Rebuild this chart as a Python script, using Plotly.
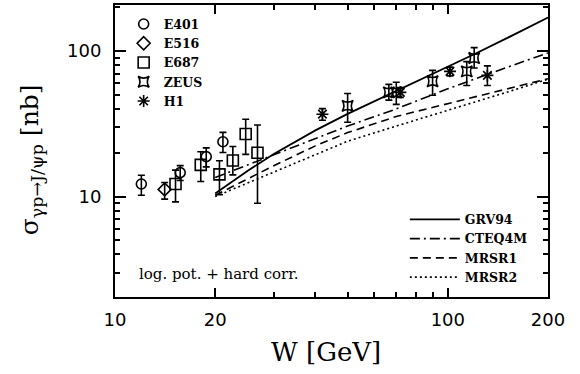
import plotly.graph_objects as go

# ---------------- data ----------------
e401_w = [12.0, 15.7, 18.8, 21.1]
e401_s = [12.2, 14.6, 18.8, 23.8]
e401_up = [1.8, 1.7, 2.8, 3.8]
e401_dn = [2.0, 1.7, 2.8, 3.7]

e516_w = [14.1]
e516_s = [11.2]
e516_up = [1.3]
e516_dn = [1.6]

e687_w = [15.2, 18.1, 20.6, 22.6, 24.7, 26.8]
e687_s = [12.2, 16.5, 14.2, 17.7, 26.9, 20.0]
e687_up = [3.0, 3.8, 3.4, 4.4, 7.1, 11.0]
e687_dn = [3.0, 3.8, 3.9, 3.6, 7.4, 11.0]

zeus_w = [50.0, 66.5, 70.0, 90.0, 114.0, 120.0]
zeus_s = [42.0, 52.0, 52.0, 62.0, 72.5, 89.5]
zeus_up = [9.0, 7.0, 9.0, 11.6, 12.0, 16.0]
zeus_dn = [9.6, 6.0, 9.0, 12.3, 14.5, 13.0]

h1_w = [42.0, 72.0, 101.5, 131.5]
h1_s = [36.8, 52.0, 72.5, 68.0]
h1_up = [3.4, 4.0, 5.0, 11.0]
h1_dn = [3.4, 4.0, 5.0, 10.0]

grv_w = [20, 22, 25, 30, 35, 40, 50, 60, 70, 80, 100, 120, 150, 200]
grv_s = [10.5, 12.3, 15.0, 19.6, 24.0, 28.5, 37.0, 45.0, 53.5, 61.5, 78.5, 95.0, 122.0, 170.0]

cteq_w = [20, 25, 30, 40, 50, 70, 100, 150, 200]
cteq_s = [13.5, 16.5, 19.5, 25.0, 30.5, 40.0, 55.0, 77.0, 97.0]

mrsr1_w = [20, 25, 30, 40, 50, 70, 100, 150, 200]
mrsr1_s = [10.2, 13.2, 16.3, 22.3, 27.5, 35.5, 43.5, 54.5, 64.5]

mrsr2_w = [20, 25, 30, 40, 50, 70, 100, 150, 200]
mrsr2_s = [10.0, 12.4, 14.8, 19.5, 24.0, 30.5, 39.0, 52.0, 64.0]

x_tickvals = [10, 20, 100, 200]
x_ticktext = ["10", "20", "100", "200"]
x_minor = [30, 40, 50, 60, 70, 80, 90]
y_tickvals = [10, 100]
y_ticktext = ["10", "100"]
y_minor = [2, 3, 4, 5, 6, 7, 8, 9, 20, 30, 40, 50, 60, 70, 80, 90, 200]

# ---------------- figure ----------------
fig = go.Figure()

def data_trace(name, w, s, up, dn, symbol, size):
    return go.Scatter(
        x=w, y=s, mode="markers", name=name,
        marker=dict(symbol=symbol, size=size, color="black",
                    line=dict(color="black", width=1.6)),
        error_y=dict(type="data", symmetric=False, array=up, arrayminus=dn,
                     color="black", thickness=1.6, width=3.5),
        legend="legend",
    )

fig.add_trace(data_trace("E401", e401_w, e401_s, e401_up, e401_dn, "circle-open", 10))
fig.add_trace(data_trace("E516", e516_w, e516_s, e516_up, e516_dn, "diamond-open", 10))
fig.add_trace(data_trace("E687", e687_w, e687_s, e687_up, e687_dn, "square-open", 11))
fig.add_trace(data_trace("ZEUS", zeus_w, zeus_s, zeus_up, zeus_dn, "star-square-open", 10))
fig.add_trace(data_trace("H1", h1_w, h1_s, h1_up, h1_dn, "asterisk-open", 10))

def curve(name, w, s, dash, width):
    return go.Scatter(x=w, y=s, mode="lines", name=name,
                      line=dict(color="black", width=width, dash=dash),
                      legend="legend2")

fig.add_trace(curve("GRV94", grv_w, grv_s, "solid", 1.8))
fig.add_trace(curve("CTEQ4M", cteq_w, cteq_s, "10px,4px,2px,4px", 1.6))
fig.add_trace(curve("MRSR1", mrsr1_w, mrsr1_s, "8px,5px", 1.6))
fig.add_trace(curve("MRSR2", mrsr2_w, mrsr2_s, "2px,3px", 1.6))

axis_common = dict(
    type="log", showgrid=False, zeroline=False,
    showline=True, linecolor="black", linewidth=2, mirror="allticks",
    ticks="inside", tickcolor="black", tickwidth=1.5,
    tickfont=dict(family="DejaVu Sans", size=18, color="black"),
)

fig.update_xaxes(
    **axis_common, range=[1, 2.30103], tickmode="array",
    tickvals=x_tickvals, ticktext=x_ticktext, ticklen=9,
    minor=dict(tickmode="array", tickvals=x_minor, ticks="inside", ticklen=5,
               tickcolor="black", tickwidth=1.5),
    ticklabelstandoff=5,
)
fig.update_yaxes(
    **axis_common, range=[0.31, 2.316], tickmode="array",
    tickvals=y_tickvals, ticktext=y_ticktext, ticklen=11,
    minor=dict(tickmode="array", tickvals=y_minor, ticks="inside", ticklen=5,
               tickcolor="black", tickwidth=1.5),
    ticklabelstandoff=8,
)

legend_font = dict(family="DejaVu Serif", size=12.5, color="black", weight="bold")

fig.update_layout(
    width=580, height=374,
    margin=dict(l=115, r=32, t=3, b=77),
    paper_bgcolor="white", plot_bgcolor="white",
    showlegend=True,
    legend=dict(x=0.02, y=0.985, xanchor="left", yanchor="top",
                bgcolor="rgba(0,0,0,0)", itemwidth=30, tracegroupgap=0,
                font=legend_font),
    legend2=dict(x=0.965, y=0.316, xanchor="right", yanchor="top",
                 bgcolor="rgba(0,0,0,0)", itemwidth=50, tracegroupgap=0,
                 font=legend_font),
    annotations=[
        dict(text="W [GeV]", xref="paper", yref="paper", x=0.487, y=-0.19,
             xanchor="center", yanchor="middle", showarrow=False,
             font=dict(family="DejaVu Serif", size=26, color="black")),
        dict(text="σ<sub>γp→J/ψp</sub> [nb]", xref="paper", yref="paper",
             x=-0.195, y=0.47, xanchor="center", yanchor="middle",
             textangle=-90, showarrow=False,
             font=dict(family="DejaVu Serif", size=25, color="black")),
        dict(text="log. pot. + hard corr.", xref="paper", yref="paper",
             x=0.05, y=0.078, xanchor="left", yanchor="middle", showarrow=False,
             font=dict(family="DejaVu Serif", size=15, color="black")),
    ],
)

fig.write_html("out.html")
